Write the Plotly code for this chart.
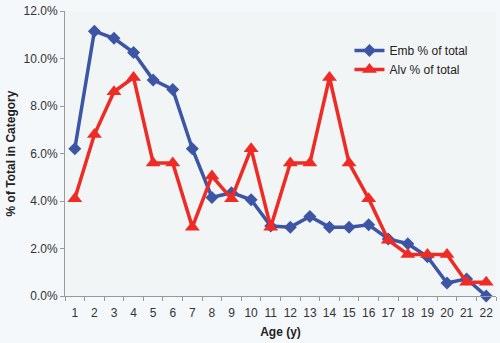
import plotly.graph_objects as go

ages = [str(i) for i in range(1, 23)]
emb = [6.2, 11.15, 10.85, 10.25, 9.1, 8.7, 6.2, 4.15, 4.35, 4.05, 2.95, 2.9,
       3.35, 2.9, 2.9, 3.0, 2.4, 2.2, 1.65, 0.55, 0.72, 0.0]
alv = [4.1, 6.8, 8.6, 9.2, 5.6, 5.6, 2.9, 5.05, 4.1, 6.2, 2.9, 5.6,
       5.6, 9.2, 5.6, 4.1, 2.35, 1.75, 1.75, 1.75, 0.58, 0.58]
y_ticks = [0, 2, 4, 6, 8, 10, 12]
y_labels = ["0.0%", "2.0%", "4.0%", "6.0%", "8.0%", "10.0%", "12.0%"]

BLUE = "#3c55a5"
RED = "#ee2b24"
FONT = "Liberation Sans, Arial, sans-serif"

fig = go.Figure()
fig.add_trace(go.Scatter(
    x=ages, y=emb, name="Emb % of total", mode="lines+markers",
    line=dict(color=BLUE, width=3.5),
    marker=dict(symbol="diamond", size=10, color=BLUE),
    cliponaxis=False,
))
fig.add_trace(go.Scatter(
    x=ages, y=alv, name="Alv % of total", mode="lines+markers",
    line=dict(color=RED, width=3.5),
    marker=dict(symbol="triangle-up", size=13, color=RED),
    cliponaxis=False,
))

fig.update_layout(
    width=500, height=343,
    margin=dict(l=65, r=4, t=8, b=47),
    paper_bgcolor="#f5f8fa",
    plot_bgcolor="#f2f5f6",
    font=dict(family=FONT, size=12, color="#333333"),
    showlegend=True,
    legend=dict(x=0.66, y=0.912, xanchor="left", yanchor="top",
                bgcolor="rgba(0,0,0,0)", font=dict(size=12, color="#222222"),
                itemwidth=30, tracegroupgap=3),
    xaxis=dict(
        type="category", range=[-0.5, 21.5], tickson="boundaries",
        ticks="outside", ticklen=4,
        tickangle=0, ticklabelstandoff=6,
        tickcolor="#999999", showline=True, linecolor="#999999", linewidth=1,
        showgrid=False, zeroline=False,
        title=dict(text="<b>Age (y)</b>", font=dict(size=12, color="#222222"), standoff=8),
        tickfont=dict(size=12, color="#333333"),
    ),
    yaxis=dict(
        range=[0, 12], tickvals=y_ticks, ticktext=y_labels,
        ticks="outside", ticklen=4, tickcolor="#999999",
        showline=True, linecolor="#999999", linewidth=1,
        showgrid=False, zeroline=False,
        title=dict(text="<b>% of Total in Category</b>", font=dict(size=12, color="#222222"), standoff=5),
        tickfont=dict(size=12, color="#333333"),
    ),
)

fig.write_html("out.html")
